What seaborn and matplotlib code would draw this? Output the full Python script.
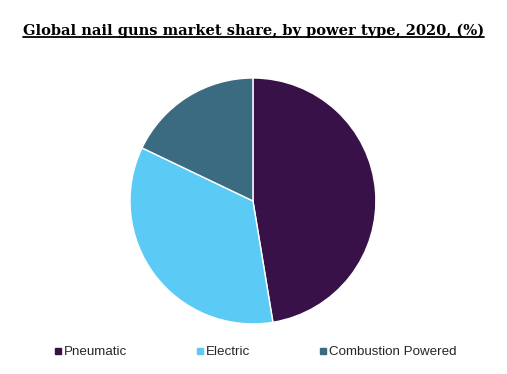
import matplotlib
matplotlib.use("Agg")
import matplotlib.pyplot as plt
import seaborn as sns
from matplotlib.lines import Line2D

# data
categories = ["Pneumatic", "Electric", "Combustion Powered"]
shares = [47.4, 34.7, 17.9]
colors = ["#371148", "#5BCBF5", "#3A6B80"]
title = "Global nail guns market share, by power type, 2020, (%)"

sns.set_theme(style="white")
plt.rcParams['font.family'] = ['Liberation Sans', 'DejaVu Sans']

fig = plt.figure(figsize=(5.07, 3.74), dpi=100)
fig.patch.set_facecolor("white")

# pie axes, square, centred on the chart
ax = fig.add_axes([0.2564, 0.1337, 0.485, 0.658])
ax.pie(shares, colors=colors, startangle=90, counterclock=False,
       wedgeprops=dict(edgecolor="white", linewidth=1.0))
ax.set_aspect("equal")
ax.set_xlim(-1.0, 1.0)
ax.set_ylim(-1.0, 1.0)

# title with underline, sized to span ~460 px
t = fig.text(0.5, 0.917, title, ha="center", va="center",
             family=["DejaVu Serif"], fontweight="bold", fontsize=10,
             color="black")
fig.canvas.draw()
renderer = fig.canvas.get_renderer()
bb = t.get_window_extent(renderer=renderer)
t.set_fontsize(10 * 460 / bb.width)
fig.canvas.draw()
bb = t.get_window_extent(renderer=renderer)
inv = fig.transFigure.inverted()
(x0, y0), (x1, y1) = inv.transform([(bb.x0, bb.y0), (bb.x1, bb.y1)])
fig.add_artist(Line2D([x0, x1], [y0 + 0.003, y0 + 0.003], color="black",
                      linewidth=1.3, transform=fig.transFigure))

# legend
handles = [Line2D([0], [0], marker="s", linestyle="", markersize=5,
                  markerfacecolor=c, markeredgecolor=c) for c in colors]
fig.legend(handles, categories, loc="center", ncol=3,
           bbox_to_anchor=(0.502, 0.058), frameon=False, fontsize=9.6,
           handletextpad=0.1, columnspacing=5.0, handlelength=0.8)

fig.savefig("out.png", dpi=100, facecolor="white")
